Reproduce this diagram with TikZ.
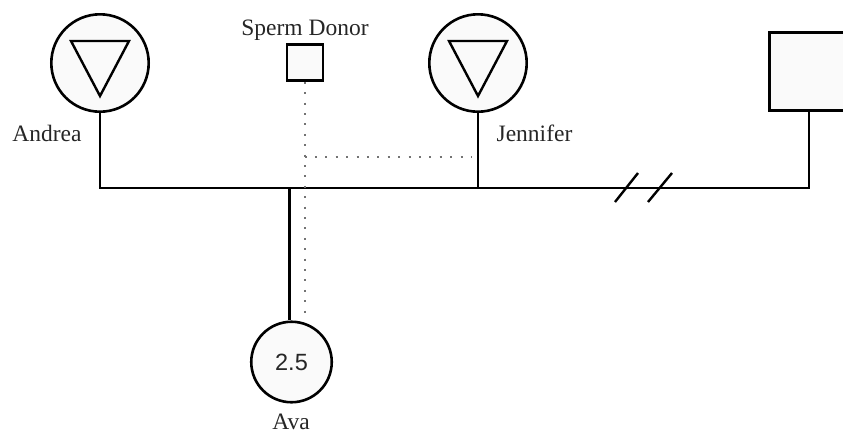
\documentclass[tikz,border=0pt]{standalone}
\usepackage{fontspec}
\setmainfont{Liberation Serif}
\newfontfamily\sansf{Liberation Sans}
\begin{document}
\begin{tikzpicture}[x=1pt,y=-1pt,
  line/.style={line width=2.6pt,draw=black},
  person/.style={circle,draw=black,line width=2.6pt,fill=black!2,inner sep=0pt},
  male/.style={rectangle,draw=black,line width=2.6pt,fill=black!2,inner sep=0pt},
  tri/.style={line width=2.4pt,line join=miter},
  dotline/.style={draw=black!55,line width=2pt,dash pattern=on 2pt off 8.4pt},
  lbl/.style={text=black!85,font=\fontsize{23.5}{28}\selectfont,anchor=base,inner sep=0pt},
  brk/.style={line width=2.4pt}
]
\useasboundingbox (0,0) rectangle (843,432);
% people
\node[person,minimum size=97.4pt] (andrea) at (100,63) {};
\node[person,minimum size=97.4pt] (jennifer) at (478,63) {};
\node[male,minimum width=36pt,minimum height=36pt] (donor) at (305,62.5) {};
\node[male,minimum width=79.5pt,minimum height=78.5pt] (partner) at (809,71.5) {};
\node[person,minimum size=80.5pt,font=\sansf\fontsize{23.5}{28}\selectfont,text=black!85] (ava) at (291.5,362) {2.5};
% triangles
\draw[tri] ([shift={(-29,-22)}]andrea.center) -- ([shift={(29,-22)}]andrea.center) -- ([shift={(0,33)}]andrea.center) -- cycle;
\draw[tri] ([shift={(-29,-22)}]jennifer.center) -- ([shift={(29,-22)}]jennifer.center) -- ([shift={(0,33)}]jennifer.center) -- cycle;
% labels
\node[lbl] (lA) at (47,141.5) {Andrea};
\node[lbl] (lJ) at (534.5,141.5) {Jennifer};
\node[lbl] (lD) at (305,35) {Sperm Donor};
\node[lbl] (lV) at (291,429) {Ava};
% connector points
\coordinate (mA) at (100,188);
\coordinate (mJ) at (478,188);
\coordinate (mP) at (809,188);
\coordinate (sib) at (289.5,188);
\coordinate (dj) at (304.5,157);
\coordinate (dend) at (304.5,318);
% solid lines
\draw[line,line join=miter] (andrea.south) -- (mA) -- (mP) -- (partner.south);
\draw[line] (jennifer.south) -- (mJ);
\draw[line] (sib) -- (sib |- ava.north);
% divorce marks
\coordinate (b1a) at (615,202); \coordinate (b1b) at (638,173);
\coordinate (b2a) at (648,202); \coordinate (b2b) at (672,173);
\draw[brk] (b1a) -- (b1b);
\draw[brk] (b2a) -- (b2b);
% donor dotted lines
\draw[dotline] (donor.south -| dj) -- (dend);
\draw[dotline] (dj) -- ([xshift=-6pt]dj -| jennifer.south);
\end{tikzpicture}
\end{document}
